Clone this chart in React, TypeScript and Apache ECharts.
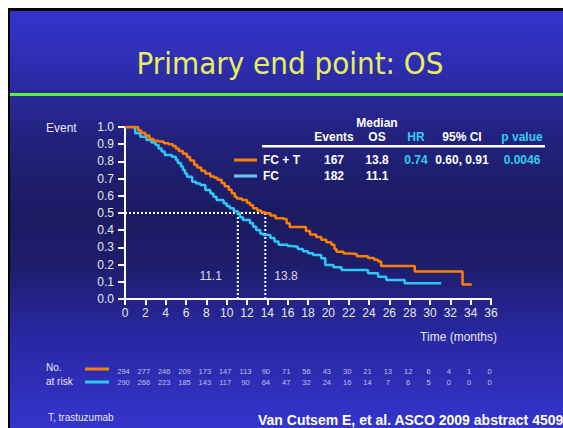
import React, { useEffect, useRef } from "react";
import * as echarts from "echarts";

// ---- data ----
const fcTCurve: [number, number][] = [
  [0, 1], [1.0, 1.0], [1.3, 0.98], [1.6, 0.965], [2.0, 0.95], [2.4, 0.93], [2.8, 0.92], [3.3, 0.915],
  [3.8, 0.905], [4.3, 0.9], [4.7, 0.89], [5.0, 0.875], [5.3, 0.86], [5.7, 0.845], [6.1, 0.825],
  [6.4, 0.805], [6.8, 0.78], [7.1, 0.765], [7.5, 0.745], [7.9, 0.73], [8.4, 0.712], [8.8, 0.705],
  [9.1, 0.693], [9.5, 0.675], [9.8, 0.655], [10.2, 0.635], [10.5, 0.615], [10.8, 0.595], [11.0, 0.585],
  [11.5, 0.575], [12.0, 0.56], [12.3, 0.545], [12.6, 0.528], [13.0, 0.515], [13.4, 0.505], [13.8, 0.498],
  [14.3, 0.485], [14.8, 0.47], [15.6, 0.465], [15.9, 0.44], [16.2, 0.418], [17.5, 0.418], [17.8, 0.395],
  [18.2, 0.375], [18.8, 0.36], [19.3, 0.345], [19.8, 0.33], [20.3, 0.315], [20.6, 0.29], [20.8, 0.275],
  [21.5, 0.265], [22.1, 0.262], [22.8, 0.248], [23.9, 0.238], [24.5, 0.228], [24.9, 0.218], [25.2, 0.192],
  [28.0, 0.192], [28.5, 0.16], [33.1, 0.16], [33.2, 0.085], [34.1, 0.085],
];
const fcCurve: [number, number][] = [
  [0, 1], [0.8, 1.0], [1.0, 0.963], [1.5, 0.944], [2.1, 0.924], [2.6, 0.91], [3.0, 0.895], [3.3, 0.875],
  [3.6, 0.857], [3.9, 0.837], [4.6, 0.827], [5.0, 0.81], [5.2, 0.79], [5.5, 0.77], [5.7, 0.75], [5.9, 0.73],
  [6.1, 0.711], [6.6, 0.682], [7.0, 0.672], [7.4, 0.663], [7.9, 0.634], [8.4, 0.614], [8.7, 0.595],
  [9.0, 0.576], [9.7, 0.556], [10.0, 0.54], [10.3, 0.527], [10.7, 0.51], [11.1, 0.498], [11.3, 0.475],
  [11.6, 0.459], [12.3, 0.44], [12.6, 0.42], [12.9, 0.401], [13.3, 0.38], [13.6, 0.372], [14.3, 0.355],
  [14.7, 0.335], [15.1, 0.316], [16.0, 0.308], [16.4, 0.304], [17.0, 0.29], [17.5, 0.277], [18.0, 0.266],
  [18.5, 0.256], [19.3, 0.237], [19.7, 0.198], [20.5, 0.185], [21.3, 0.169], [23.9, 0.149], [24.9, 0.13],
  [25.7, 0.11], [27.5, 0.091], [31.1, 0.091],
];
const medians = [13.8, 11.1];
const medianLabels = ["13.8", "11.1"];
const riskTimes = [0, 2, 4, 6, 8, 10, 12, 14, 16, 18, 20, 22, 24, 26, 28, 30, 32, 34, 36];
const riskFcT = [294, 277, 246, 209, 173, 147, 113, 90, 71, 56, 43, 30, 21, 13, 12, 6, 4, 1, 0];
const riskFc = [290, 266, 223, 185, 143, 117, 90, 64, 47, 32, 24, 16, 14, 7, 6, 5, 0, 0, 0];
const armNames = ["FC + T", "FC"];
const armEvents = ["167", "182"];
const armMedianOS = ["13.8", "11.1"];
const hrText = "0.74";
const ciText = "0.60, 0.91";
const pText = "0.0046";
const yTickLabels = ["0.0", "0.1", "0.2", "0.3", "0.4", "0.5", "0.6", "0.7", "0.8", "0.9", "1.0"];

const ORANGE = "#ff7f00";
const CYAN = "#2ec8f4";
const CYAN_LEG = "#6ec6f0";
const TXT = "#e8e8ee";
const HILITE = "#2fd0ee";
const LBL = "#dcdce6";

export default function App() {
  const ref = useRef<HTMLDivElement>(null);
  useEffect(() => {
    if (!ref.current) return;
    const chart = echarts.init(ref.current, undefined, { renderer: "svg" });
    const font = "Liberation Sans, Arial, sans-serif";
    const bold = (x: number, y: number, text: string, fill = "#ffffff", align = "center") => ({
      type: "text", x, y,
      style: { text, fill, font: `bold 12px ${font}`, textAlign: align, textVerticalAlign: "middle" },
    });
    const colX = { events: 324, os: 367, hr: 406, ci: 452, p: 512 };
    const rowY = [149, 165];
    const graphics: any[] = [
      {
        type: "text", x: 280, y: 52,
        style: { text: "Primary end point: OS", fill: "#e8ef5c", font: `31px "DejaVu Sans Condensed", Tahoma, sans-serif`, textAlign: "center", textVerticalAlign: "middle" },
      },
      { type: "rect", shape: { x: 0, y: 82, width: 560, height: 3 }, style: { fill: "#5ef03a" } },
      { type: "text", x: 36, y: 117, style: { text: "Event", fill: TXT, font: `12px ${font}`, textVerticalAlign: "middle" } },
      bold(colX.os, 112, "Median"),
      bold(colX.events, 126, "Events"),
      bold(colX.os, 126, "OS"),
      bold(colX.hr, 126, "HR", HILITE),
      bold(colX.ci, 126, "95% CI"),
      bold(colX.p, 126, "p value", HILITE),
      { type: "rect", shape: { x: 252, y: 134, width: 283, height: 2.5 }, style: { fill: "#ffffff" } },
      { type: "rect", shape: { x: 224, y: rowY[0] - 1.5, width: 23, height: 3 }, style: { fill: ORANGE } },
      { type: "rect", shape: { x: 224, y: rowY[1] - 1.5, width: 23, height: 3 }, style: { fill: CYAN_LEG } },
      bold(colX.hr, rowY[0], hrText, HILITE),
      bold(colX.ci, rowY[0], ciText),
      bold(colX.p, rowY[0], pText, HILITE),
      { type: "text", x: 487, y: 326, style: { text: "Time (months)", fill: TXT, font: `12px ${font}`, textAlign: "right", textVerticalAlign: "middle" } },
      { type: "text", x: 36, y: 356, style: { text: "No.", fill: TXT, font: `10px ${font}`, textVerticalAlign: "middle" } },
      { type: "text", x: 36, y: 370, style: { text: "at risk", fill: TXT, font: `10px ${font}`, textVerticalAlign: "middle" } },
      { type: "rect", shape: { x: 75, y: 356.5, width: 24, height: 3 }, style: { fill: ORANGE } },
      { type: "rect", shape: { x: 75, y: 369.5, width: 24, height: 3 }, style: { fill: CYAN } },
      { type: "text", x: 38, y: 406, style: { text: "T, trastuzumab", fill: TXT, font: `10px ${font}`, textVerticalAlign: "middle" } },
      { type: "text", x: 248, y: 409, style: { text: "Van Cutsem E, et al. ASCO 2009 abstract 4509", fill: "#ffffff", font: `bold 14px ${font}`, textVerticalAlign: "middle" } },
    ];
    armNames.forEach((n, i) => {
      graphics.push(bold(253, rowY[i], n, "#ffffff", "left"));
      graphics.push(bold(colX.events, rowY[i], armEvents[i]));
      graphics.push(bold(colX.os, rowY[i], armMedianOS[i]));
    });

    const dotted = { color: "#ffffff", width: 2, type: [2, 2] as any };
    const medianSeries: any[] = [
      {
        type: "line", xAxisIndex: 0, yAxisIndex: 0, silent: true, showSymbol: false,
        data: [[0, 0.5], [medians[0], 0.5]], lineStyle: dotted, itemStyle: { color: "#fff" }, z: 1,
      },
      ...medians.map((m) => ({
        type: "line", xAxisIndex: 0, yAxisIndex: 0, silent: true, showSymbol: false,
        data: [[m, 0.5], [m, 0]], lineStyle: dotted, itemStyle: { color: "#fff" }, z: 1,
      })),
    ];

    const riskSeries = [riskFcT, riskFc].map((arr, r) => ({
      type: "scatter", xAxisIndex: 1, yAxisIndex: 1, symbolSize: 0, silent: true,
      itemStyle: { color: "#e4e4ee" },
      data: arr.map((v, i) => [riskTimes[i], armNames[r], v]),
      label: {
        show: true, position: "inside", offset: [-1.5, 0],
        formatter: (p: any) => String(p.value[2]),
        color: "#e4e4ee", fontSize: 7.5, fontFamily: font,
      },
    }));

    const option: any = {
      animation: false,
      backgroundColor: "transparent",
      graphic: graphics,
      grid: [
        { left: 115, top: 116, width: 366, height: 172 },
        { left: 115, top: 354.5, width: 366, height: 22 },
      ],
      xAxis: [
        {
          type: "value", gridIndex: 0, min: 0, max: 36, interval: 2,
          axisLine: { show: true, onZero: false, lineStyle: { color: "#ffffff", width: 2 } },
          axisTick: { show: true, length: 6, lineStyle: { color: "#ffffff", width: 2 } },
          axisLabel: { color: TXT, fontSize: 12, fontFamily: font, margin: 8 },
          splitLine: { show: false },
        },
        { type: "value", gridIndex: 1, min: 0, max: 36, show: false },
      ],
      yAxis: [
        {
          type: "value", gridIndex: 0, min: 0, max: 1, interval: 0.1,
          axisLine: { show: true, lineStyle: { color: "#ffffff", width: 2 } },
          axisTick: { show: true, length: 7, lineStyle: { color: "#ffffff", width: 2 } },
          axisLabel: {
            color: TXT, fontSize: 12, fontFamily: font, margin: 11,
            formatter: (v: number) => yTickLabels[Math.round(v * 10)],
          },
          splitLine: { show: false },
        },
        { type: "category", gridIndex: 1, data: armNames, inverse: true, show: false },
      ],
      series: [
        ...medianSeries,
        {
          type: "line", name: "FC", step: "end", xAxisIndex: 0, yAxisIndex: 0, showSymbol: false,
          data: fcCurve, itemStyle: { color: CYAN }, lineStyle: { color: CYAN, width: 2.5 }, z: 3,
        },
        {
          type: "line", name: "FC + T", step: "end", xAxisIndex: 0, yAxisIndex: 0, showSymbol: false,
          data: fcTCurve, itemStyle: { color: ORANGE }, lineStyle: { color: ORANGE, width: 2.5 }, z: 4,
        },
        ...riskSeries,
      ],
    };
    chart.setOption(option);

    // median value labels, placed through the chart's own scales
    const extra = medians.map((m, i) => {
      const [px, py] = chart.convertToPixel({ gridIndex: 0 }, [m, 0.134]) as number[];
      const right = i === 0;
      return {
        type: "text", x: right ? px + 9 : px - 16, y: py,
        style: {
          text: medianLabels[i], fill: LBL, font: `12px ${font}`,
          textAlign: right ? "left" : "right", textVerticalAlign: "middle",
        },
      };
    });
    chart.setOption({ ...option, graphic: [...graphics, ...extra] }, true);
    return () => chart.dispose();
  }, []);

  return (
    <div style={{ position: "fixed", left: 8, top: 8, width: 555, height: 420, background: "#000", overflow: "hidden" }}>
      <div
        style={{
          position: "absolute", left: 2, top: 3, width: 553, height: 417,
          background: "linear-gradient(to bottom, #3434cc 0%, #2e2eb4 12%, #22227e 30%, #1b1b62 48%, #1d1d6a 60%, #2828a2 78%, #3434cc 100%)",
        }}
      >
        <div ref={ref} style={{ width: 553, height: 417 }} />
      </div>
    </div>
  );
}
